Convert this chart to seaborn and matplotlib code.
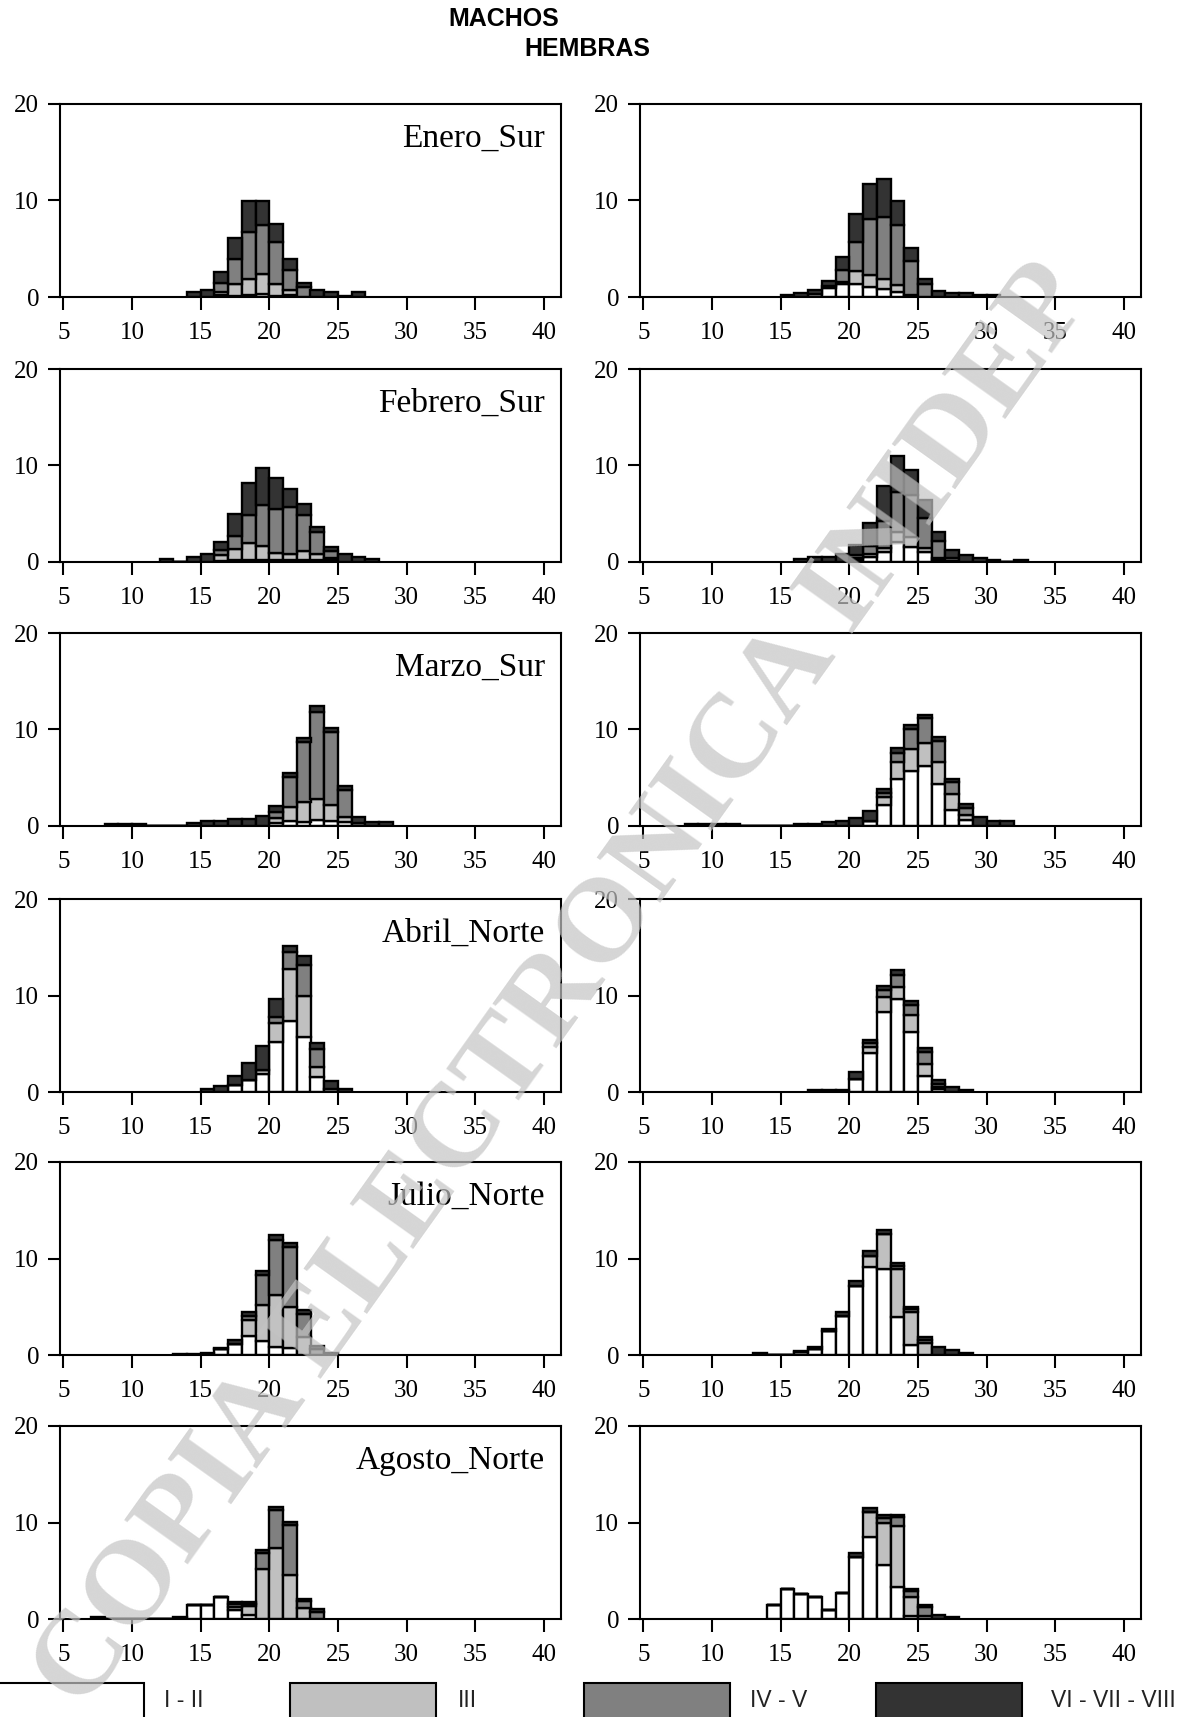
import numpy as np
import pandas as pd
import matplotlib
matplotlib.use("Agg")
import matplotlib.pyplot as plt
import seaborn as sns
from matplotlib.patches import Rectangle

# ---------------- data ----------------
STAGES = ["I - II", "III", "IV - V", "VI - VII - VIII"]
STAGE_COLORS = ["#ffffff", "#c0c0c0", "#808080", "#333333"]
PANEL_TITLES = ["Enero_Sur", "Febrero_Sur", "Marzo_Sur", "Abril_Norte", "Julio_Norte", "Agosto_Norte"]
SEX_TITLES = ["MACHOS", "HEMBRAS"]
X_TICKS = [5, 10, 15, 20, 25, 30, 35, 40]
Y_TICKS = [0, 10, 20]

# Enero_Sur, machos (first bin 14-15 cm)
ENERO_M_START = 14
ENERO_M_I_II = [0, 0, 0.2, 0.1, 0.2, 0.35, 0.15, 0.2, 0, 0, 0, 0, 0]
ENERO_M_III = [0, 0, 0.35, 1.2, 1.7, 2.05, 1.2, 0.5, 0, 0, 0, 0, 0]
ENERO_M_IV_V = [0, 0, 0.85, 2.6, 4.8, 5.05, 4.3, 2.05, 1.0, 0, 0, 0, 0]
ENERO_M_VI_VIII = [0.5, 0.75, 1.2, 2.25, 3.2, 2.45, 1.95, 1.15, 0.5, 0.75, 0.5, 0.15, 0.5]

# Enero_Sur, hembras
ENERO_H_START = 15
ENERO_H_I_II = [0, 0, 0.3, 0.9, 1.3, 1.3, 1.0, 0.8, 0.55, 0.2, 0, 0, 0, 0, 0, 0]
ENERO_H_III = [0, 0, 0, 0.25, 0.3, 1.35, 1.3, 1.1, 0.7, 0, 0, 0, 0, 0, 0, 0]
ENERO_H_IV_V = [0, 0, 0, 0, 1.15, 3.1, 5.8, 6.4, 6.2, 3.55, 1.3, 0, 0, 0, 0, 0]
ENERO_H_VI_VIII = [0.2, 0.4, 0.4, 0.55, 1.35, 2.8, 3.6, 3.95, 2.5, 1.3, 0.6, 0.6, 0.4, 0.4, 0.2, 0.2]

# Febrero_Sur, machos
FEBRERO_M_START = 12
FEBRERO_M_I_II = [0, 0, 0, 0, 0.1, 0.2, 0.25, 0.2, 0.25, 0.2, 0.2, 0.2, 0.2, 0, 0, 0]
FEBRERO_M_III = [0, 0, 0, 0, 0.6, 1.15, 1.75, 1.5, 0.65, 0.65, 0.9, 0.65, 0.2, 0, 0, 0]
FEBRERO_M_IV_V = [0, 0, 0, 0, 0.5, 1.3, 2.85, 4.25, 4.55, 4.8, 3.8, 2.25, 0.75, 0, 0, 0]
FEBRERO_M_VI_VIII = [0.3, 0, 0.5, 0.8, 0.85, 2.35, 3.3, 3.75, 3.25, 1.9, 1.15, 0.55, 0.4, 0.8, 0.5, 0.3]

# Febrero_Sur, hembras
FEBRERO_H_START = 16
FEBRERO_H_I_II = [0, 0, 0, 0, 0.2, 0.5, 1.05, 2.1, 1.6, 1.0, 0.25, 0.15, 0, 0, 0, 0, 0]
FEBRERO_H_III = [0, 0, 0, 0, 0.25, 0.3, 0.45, 1.0, 1.0, 0.4, 0.2, 0, 0, 0, 0, 0, 0]
FEBRERO_H_IV_V = [0, 0, 0, 0, 0.3, 0.85, 2.8, 4.2, 4.35, 3.15, 1.7, 0.3, 0, 0, 0, 0, 0]
FEBRERO_H_VI_VIII = [0.3, 0.5, 0.5, 0.8, 1.05, 2.35, 3.55, 3.7, 2.6, 1.9, 0.95, 0.8, 0.7, 0.45, 0.25, 0, 0.25]

# Marzo_Sur, machos
MARZO_M_START = 8
MARZO_M_I_II = [0, 0, 0, 0, 0, 0, 0, 0, 0, 0, 0, 0, 0.35, 0.5, 0.45, 0.6, 0.55, 0.45, 0, 0, 0]
MARZO_M_III = [0, 0, 0, 0, 0, 0, 0, 0, 0, 0, 0, 0, 0.45, 1.45, 2.05, 2.15, 1.6, 0.5, 0, 0, 0]
MARZO_M_IV_V = [0, 0, 0, 0, 0, 0, 0, 0, 0, 0, 0, 0, 0.7, 3.1, 6.2, 9.05, 7.55, 2.8, 0.3, 0, 0]
MARZO_M_VI_VIII = [0.2, 0.2, 0.2, 0, 0, 0, 0.3, 0.55, 0.55, 0.7, 0.7, 1.0, 0.55, 0.45, 0.45, 0.6, 0.5, 0.35, 0.65, 0.45, 0.45]

# Marzo_Sur, hembras
MARZO_H_START = 8
MARZO_H_I_II = [0, 0, 0, 0, 0, 0, 0, 0, 0, 0, 0, 0, 0, 0.55, 2.15, 4.9, 5.75, 6.2, 4.35, 1.65, 0.6, 0, 0, 0]
MARZO_H_III = [0, 0, 0, 0, 0, 0, 0, 0, 0, 0, 0, 0, 0, 0, 0.85, 1.7, 2.25, 2.4, 2.3, 1.7, 0.5, 0, 0, 0]
MARZO_H_IV_V = [0, 0, 0, 0, 0, 0, 0, 0, 0, 0, 0, 0, 0, 0, 0.4, 1.0, 2.05, 2.6, 2.15, 1.2, 0.8, 0, 0, 0]
MARZO_H_VI_VIII = [0.2, 0.2, 0.2, 0.2, 0, 0, 0, 0, 0.2, 0.25, 0.45, 0.55, 0.8, 1.05, 0.45, 0.45, 0.45, 0.35, 0.4, 0.35, 0.35, 0.95, 0.55, 0.55]

# Abril_Norte, machos
ABRIL_M_START = 15
ABRIL_M_I_II = [0, 0, 0.7, 1.2, 1.9, 5.15, 7.4, 5.65, 1.55, 0.35, 0]
ABRIL_M_III = [0, 0, 0, 0, 0.35, 2.05, 5.35, 4.3, 1.05, 0, 0]
ABRIL_M_IV_V = [0, 0, 0, 0, 0, 0.6, 1.8, 3.25, 1.9, 0, 0]
ABRIL_M_VI_VIII = [0.3, 0.6, 0.95, 1.8, 2.55, 1.8, 0.6, 0.85, 0.55, 0.8, 0.35]

# Abril_Norte, hembras
ABRIL_H_START = 17
ABRIL_H_I_II = [0, 0, 0, 1.3, 4.0, 8.25, 9.6, 6.2, 1.65, 0.35, 0, 0]
ABRIL_H_III = [0, 0, 0, 0, 0.7, 1.55, 1.3, 1.8, 1.25, 0.2, 0, 0]
ABRIL_H_IV_V = [0, 0, 0, 0, 0.4, 0.8, 1.25, 1.05, 1.25, 0.3, 0, 0]
ABRIL_H_VI_VIII = [0.25, 0.25, 0.25, 0.75, 0.3, 0.4, 0.45, 0.35, 0.45, 0.35, 0.5, 0.25]

# Julio_Norte, machos
JULIO_M_START = 13
JULIO_M_I_II = [0, 0, 0, 0.6, 1.15, 1.95, 1.5, 0.85, 0.7, 0, 0, 0]
JULIO_M_III = [0, 0, 0, 0, 0, 1.65, 3.7, 5.35, 4.3, 1.9, 0, 0]
JULIO_M_IV_V = [0, 0, 0, 0, 0, 0.4, 3.1, 5.75, 6.2, 2.4, 0.6, 0]
JULIO_M_VI_VIII = [0.15, 0.15, 0.2, 0.15, 0.4, 0.45, 0.45, 0.45, 0.4, 0.4, 0.35, 0.25]

# Julio_Norte, hembras
JULIO_H_START = 13
JULIO_H_I_II = [0, 0, 0, 0.3, 0.6, 2.5, 4.0, 7.2, 9.1, 8.95, 3.95, 1.0, 0, 0, 0, 0]
JULIO_H_III = [0, 0, 0, 0, 0, 0, 0, 0, 1.2, 3.6, 5.0, 3.45, 1.2, 0, 0, 0]
JULIO_H_IV_V = [0, 0, 0, 0, 0, 0, 0, 0, 0, 0, 0.3, 0.3, 0.35, 0, 0, 0]
JULIO_H_VI_VIII = [0.25, 0, 0, 0.15, 0.2, 0.15, 0.45, 0.45, 0.5, 0.4, 0.25, 0.25, 0.35, 0.8, 0.5, 0.25]

# Agosto_Norte, machos
AGOSTO_M_START = 7
AGOSTO_M_I_II = [0, 0, 0, 0, 0, 0, 0, 1.5, 1.5, 2.25, 0.9, 0.45, 0, 0, 0, 0, 0]
AGOSTO_M_III = [0, 0, 0, 0, 0, 0, 0, 0, 0, 0, 0.35, 0.85, 5.15, 7.4, 4.55, 1.15, 0]
AGOSTO_M_IV_V = [0, 0, 0, 0, 0, 0, 0, 0, 0, 0, 0.3, 0.25, 1.7, 3.9, 5.15, 0.7, 0.75]
AGOSTO_M_VI_VIII = [0.2, 0, 0, 0, 0, 0, 0.2, 0, 0, 0, 0.25, 0.25, 0.3, 0.35, 0.35, 0.2, 0.3]

# Agosto_Norte, hembras
AGOSTO_H_START = 14
AGOSTO_H_I_II = [1.5, 3.1, 2.6, 2.25, 0.9, 2.7, 6.4, 8.5, 5.6, 3.3, 0.35, 0, 0, 0]
AGOSTO_H_III = [0, 0, 0, 0, 0, 0, 0, 2.6, 4.35, 6.3, 1.9, 0.3, 0, 0]
AGOSTO_H_IV_V = [0, 0, 0, 0, 0, 0, 0, 0, 0.55, 0.95, 0.6, 0.9, 0, 0]
AGOSTO_H_VI_VIII = [0, 0, 0, 0, 0, 0, 0.4, 0.4, 0.25, 0.25, 0.25, 0.3, 0.45, 0.25]

PANELS = [
    [(ENERO_M_START, ENERO_M_I_II, ENERO_M_III, ENERO_M_IV_V, ENERO_M_VI_VIII),
     (ENERO_H_START, ENERO_H_I_II, ENERO_H_III, ENERO_H_IV_V, ENERO_H_VI_VIII)],
    [(FEBRERO_M_START, FEBRERO_M_I_II, FEBRERO_M_III, FEBRERO_M_IV_V, FEBRERO_M_VI_VIII),
     (FEBRERO_H_START, FEBRERO_H_I_II, FEBRERO_H_III, FEBRERO_H_IV_V, FEBRERO_H_VI_VIII)],
    [(MARZO_M_START, MARZO_M_I_II, MARZO_M_III, MARZO_M_IV_V, MARZO_M_VI_VIII),
     (MARZO_H_START, MARZO_H_I_II, MARZO_H_III, MARZO_H_IV_V, MARZO_H_VI_VIII)],
    [(ABRIL_M_START, ABRIL_M_I_II, ABRIL_M_III, ABRIL_M_IV_V, ABRIL_M_VI_VIII),
     (ABRIL_H_START, ABRIL_H_I_II, ABRIL_H_III, ABRIL_H_IV_V, ABRIL_H_VI_VIII)],
    [(JULIO_M_START, JULIO_M_I_II, JULIO_M_III, JULIO_M_IV_V, JULIO_M_VI_VIII),
     (JULIO_H_START, JULIO_H_I_II, JULIO_H_III, JULIO_H_IV_V, JULIO_H_VI_VIII)],
    [(AGOSTO_M_START, AGOSTO_M_I_II, AGOSTO_M_III, AGOSTO_M_IV_V, AGOSTO_M_VI_VIII),
     (AGOSTO_H_START, AGOSTO_H_I_II, AGOSTO_H_III, AGOSTO_H_IV_V, AGOSTO_H_VI_VIII)],
]


def panel_frame(start, *stage_lists):
    rows = []
    for stage, vals in zip(STAGES, stage_lists):
        for i, v in enumerate(vals):
            rows.append((start + i + 0.5, stage, float(v)))
    return pd.DataFrame(rows, columns=["talla", "estadio", "n"])


# ---------------- figure ----------------
W, H = 1189, 1717
fig = plt.figure(figsize=(W / 100, H / 100), dpi=100)
SERIF = ["Liberation Serif", "DejaVu Serif"]
SANS = ["Liberation Sans", "DejaVu Sans"]

palette = dict(zip(STAGES, STAGE_COLORS))
row_bottoms_px = [297, 562, 826, 1092, 1355, 1619]
col_left_px = [60, 640]
ax_w_px, ax_h_px = 501, 193

for r in range(6):
    for c in range(2):
        start, s1, s2, s3, s4 = PANELS[r][c]
        df = panel_frame(start, s1, s2, s3, s4)
        ax = fig.add_axes([col_left_px[c] / W, 1 - row_bottoms_px[r] / H, ax_w_px / W, ax_h_px / H])
        sns.histplot(data=df, x="talla", weights="n", hue="estadio",
                     hue_order=STAGES[::-1], multiple="stack",
                     binwidth=1, binrange=(start, start + len(s1)),
                     palette=palette, edgecolor="black", linewidth=1.7,
                     alpha=1, legend=False, ax=ax)
        ax.set_xlim(4.75, 41.25)
        ax.set_ylim(0, 20)
        ax.set_xticks(X_TICKS)
        ax.set_yticks(Y_TICKS)
        ax.set_xticklabels([str(t) for t in X_TICKS], family=SERIF, fontsize=18)
        ax.set_yticklabels([str(t) for t in Y_TICKS], family=SERIF, fontsize=18)
        ax.tick_params(axis="x", direction="out", length=9, width=1.5, pad=9)
        ax.tick_params(axis="y", direction="out", length=9, width=1.5, pad=6)
        ax.set_xlabel("")
        ax.set_ylabel("")
        for sp in ax.spines.values():
            sp.set_linewidth(1.5)
            sp.set_color("black")
        if c == 0:
            ax.text(0.968, 0.82, PANEL_TITLES[r], transform=ax.transAxes,
                    ha="right", va="center", family=SERIF, fontsize=24)

# column titles
fig.text(504 / W, 1 - 19 / H, SEX_TITLES[0], ha="center", va="center",
         family=SANS, fontsize=18, weight="bold")
fig.text(587 / W, 1 - 49 / H, SEX_TITLES[1], ha="center", va="center",
         family=SANS, fontsize=18, weight="bold")

# legend boxes along the bottom edge
box_x_px = [-2, 290, 584, 876]
box_w_px = 146
label_x_px = [164, 458, 750, 1051]
for stage, col, bx, lx in zip(STAGES, STAGE_COLORS, box_x_px, label_x_px):
    fig.add_artist(Rectangle((bx / W, -0.01), box_w_px / W, (1717 - 1683) / H + 0.01,
                             transform=fig.transFigure, facecolor=col,
                             edgecolor="black", linewidth=1.5))
    fig.text(lx / W, 1 - 1700 / H, stage, ha="left", va="center",
             family=SANS, fontsize=16.5, color="#222222")

# watermark
fig.text(0.475, 0.425, "COPIA ELECTRONICA INIDEP", rotation=54.5, rotation_mode="anchor",
         ha="center", va="center", family=SERIF, weight="bold", fontsize=86,
         color="#c4c4c4", alpha=0.7, zorder=100)

fig.savefig("out.png", dpi=100)
